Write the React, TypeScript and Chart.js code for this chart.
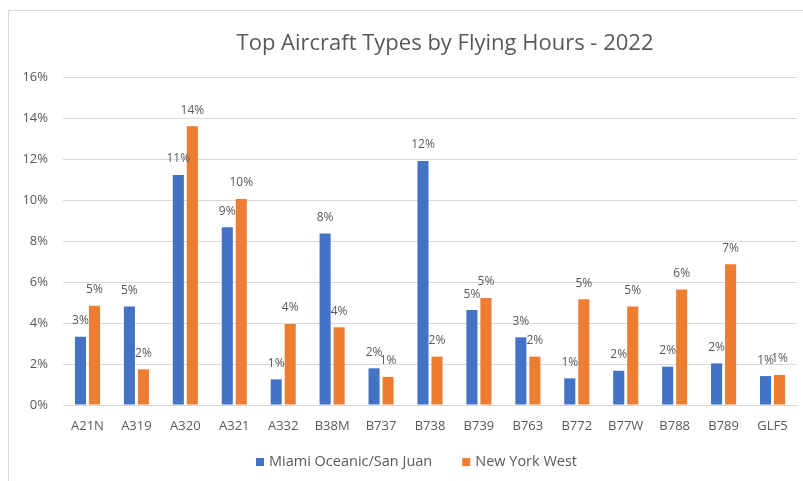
import React, { useEffect, useRef } from "react";
import { Chart, registerables } from "chart.js";

Chart.register(...registerables);

const categories = ["A21N", "A319", "A320", "A321", "A332", "B38M", "B737", "B738", "B739", "B763", "B772", "B77W", "B788", "B789", "GLF5"];
const miamiOceanic = [3.33, 4.8, 11.22, 8.67, 1.25, 8.36, 1.79, 11.9, 4.63, 3.3, 1.3, 1.67, 1.87, 2.03, 1.41];
const newYorkWest = [4.84, 1.74, 13.6, 10.05, 3.95, 3.79, 1.37, 2.36, 5.22, 2.36, 5.16, 4.8, 5.64, 6.86, 1.46];
const seriesNames = ["Miami Oceanic/San Juan", "New York West"];
const seriesColors = ["#4472C4", "#ED7D31"];
const yMin = 0;
const yMax = 16;
const yStep = 2;
const titleText = "Top Aircraft Types by Flying Hours - 2022";

const FONT = "'Open Sans', 'Liberation Sans', sans-serif";
const TEXT = "#595959";
const GRID = "#d9d9d9";

const labelPlugin = {
  id: "barLabels",
  afterDatasetsDraw(chart: any) {
    const ctx = chart.ctx;
    ctx.save();
    ctx.font = `12px ${FONT}`;
    ctx.fillStyle = TEXT;
    ctx.textAlign = "center";
    ctx.textBaseline = "middle";
    chart.data.datasets.forEach((ds: any, di: number) => {
      const meta = chart.getDatasetMeta(di);
      meta.data.forEach((bar: any, i: number) => {
        const v = ds.data[i];
        ctx.fillText(`${Math.round(v)}%`, bar.x, bar.y - 16);
      });
    });
    ctx.restore();
  },
};

const titlePlugin = {
  id: "customTitle",
  afterDraw(chart: any) {
    const ctx = chart.ctx;
    const area = chart.chartArea;
    ctx.save();
    ctx.font = `22px ${FONT}`;
    ctx.fillStyle = TEXT;
    ctx.textAlign = "center";
    ctx.textBaseline = "middle";
    ctx.fillText(titleText, (area.left + area.right) / 2 + 15, 33);
    ctx.restore();
  },
};

const legendPlugin = {
  id: "customLegend",
  afterDraw(chart: any) {
    const ctx = chart.ctx;
    ctx.save();
    ctx.font = `14.5px ${FONT}`;
    ctx.textBaseline = "middle";
    ctx.textAlign = "left";
    const box = 8;
    const gapText = 5;
    const gapItem = 30;
    const items = chart.data.datasets.map((ds: any) => ({ text: ds.label, color: ds.backgroundColor }));
    const widths = items.map((it: any) => box + gapText + ctx.measureText(it.text).width);
    const total = widths.reduce((a: number, b: number) => a + b, 0) + gapItem * (items.length - 1);
    let x = 407.5 - total / 2;
    const y = 451;
    items.forEach((it: any, i: number) => {
      ctx.fillStyle = it.color;
      ctx.fillRect(x, y - box / 2, box, box);
      ctx.fillStyle = TEXT;
      ctx.fillText(it.text, x + box + gapText, y);
      x += widths[i] + gapItem;
    });
    ctx.restore();
  },
};

export default function App() {
  const ref = useRef<HTMLCanvasElement | null>(null);
  useEffect(() => {
    if (!ref.current) return;
    const chart = new Chart(ref.current, {
      type: "bar",
      data: {
        labels: categories,
        datasets: [
          { label: seriesNames[0], data: miamiOceanic, backgroundColor: seriesColors[0], barPercentage: 0.79, categoryPercentage: 0.573 },
          { label: seriesNames[1], data: newYorkWest, backgroundColor: seriesColors[1], barPercentage: 0.79, categoryPercentage: 0.573 },
        ],
      },
      options: {
        animation: false,
        responsive: true,
        maintainAspectRatio: false,
        layout: { padding: { top: 66, right: 6, left: 0, bottom: 42 } },
        plugins: {
          title: { display: false },
          tooltip: { enabled: false },
          legend: { display: false },
        },
        scales: {
          x: {
            grid: { display: false, drawTicks: false },
            border: { display: true, color: GRID },
            ticks: { color: TEXT, font: { family: FONT, size: 13 }, padding: 13, maxRotation: 0, autoSkip: false },
            afterFit: (s: any) => { s.height = 34; },
          },
          y: {
            min: yMin,
            max: yMax,
            grid: { color: GRID, drawTicks: false },
            border: { display: false },
            ticks: { stepSize: yStep, color: TEXT, font: { family: FONT, size: 13 }, padding: 15, callback: (v: any) => `${v}%` },
            afterFit: (s: any) => { s.width = 54; },
          },
        },
      },
      plugins: [labelPlugin, titlePlugin, legendPlugin],
    });
    return () => chart.destroy();
  }, []);
  return (
    <div
      style={{
        position: "fixed",
        left: 8,
        top: 10,
        width: 795,
        height: 471,
        borderTop: "1px solid #d9d9d9",
        borderLeft: "1px solid #d9d9d9",
        boxSizing: "border-box",
        background: "#fff",
      }}
    >
      <div style={{ position: "relative", width: 794, height: 470 }}>
        <canvas ref={ref} />
      </div>
    </div>
  );
}
